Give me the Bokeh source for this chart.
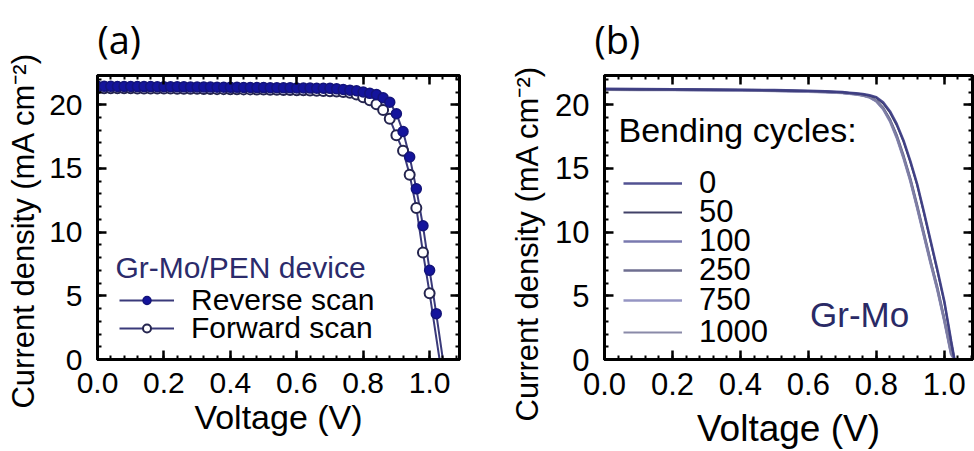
from bokeh.plotting import figure
from bokeh.layouts import row
from bokeh.models import (Range1d, LinearAxis, Legend, LegendItem, Label, FixedTicker,
                          CustomLabelingPolicy)
from bokeh.embed import file_html
from bokeh.resources import INLINE

# ---------------- Panel (a) data ----------------
rev_voltage = [0.00, 0.02, 0.04, 0.06, 0.08, 0.10, 0.12, 0.14, 0.16, 0.18,
               0.20, 0.22, 0.24, 0.26, 0.28, 0.30, 0.32, 0.34, 0.36, 0.38,
               0.40, 0.42, 0.44, 0.46, 0.48, 0.50, 0.52, 0.54, 0.56, 0.58,
               0.60, 0.62, 0.64, 0.66, 0.68, 0.70, 0.72, 0.74, 0.76, 0.78,
               0.80, 0.82, 0.84, 0.86, 0.88, 0.90, 0.92, 0.94, 0.96, 0.98,
               1.00, 1.02]
rev_current = [21.45, 21.45, 21.45, 21.44, 21.44, 21.44, 21.43, 21.43, 21.43, 21.42,
               21.42, 21.42, 21.41, 21.41, 21.40, 21.40, 21.39, 21.39, 21.38, 21.38,
               21.37, 21.37, 21.36, 21.36, 21.35, 21.35, 21.34, 21.34, 21.33, 21.33,
               21.32, 21.32, 21.31, 21.30, 21.30, 21.29, 21.25, 21.20, 21.15, 21.10,
               21.00, 20.90, 20.80, 20.55, 20.20, 19.30, 17.90, 15.90, 13.40, 10.50,
               7.00, 3.60]
rev_voc = 1.04

fwd_voltage = [0.00, 0.02, 0.04, 0.06, 0.08, 0.10, 0.12, 0.14, 0.16, 0.18,
               0.20, 0.22, 0.24, 0.26, 0.28, 0.30, 0.32, 0.34, 0.36, 0.38,
               0.40, 0.42, 0.44, 0.46, 0.48, 0.50, 0.52, 0.54, 0.56, 0.58,
               0.60, 0.62, 0.64, 0.66, 0.68, 0.70, 0.72, 0.74, 0.76, 0.78,
               0.80, 0.82, 0.84, 0.86, 0.88, 0.90, 0.92, 0.94, 0.96, 0.98,
               1.00]
fwd_current = [21.30, 21.30, 21.30, 21.29, 21.29, 21.29, 21.28, 21.28, 21.28, 21.27,
               21.27, 21.27, 21.26, 21.26, 21.25, 21.25, 21.24, 21.24, 21.23, 21.23,
               21.22, 21.22, 21.21, 21.21, 21.20, 21.20, 21.19, 21.18, 21.17, 21.16,
               21.15, 21.14, 21.13, 21.11, 21.09, 21.07, 21.04, 21.00, 20.95, 20.80,
               20.60, 20.35, 20.05, 19.60, 18.90, 17.60, 16.40, 14.50, 11.90, 8.40,
               5.20]
fwd_voc = 1.03

scan_labels = ["Reverse scan", "Forward scan"]
device_title = "Gr-Mo/PEN device"

# ---------------- Panel (b) data ----------------
bend_voltage = [0.00, 0.10, 0.20, 0.30, 0.40, 0.50, 0.60, 0.65, 0.70, 0.72,
                0.74, 0.76, 0.78, 0.80, 0.82, 0.84, 0.86, 0.88, 0.90, 0.92,
                0.94, 0.96, 0.98, 1.00, 1.02, 1.03]
bend_cycles = ["0", "50", "100", "250", "750", "1000"]
bend_current = {
    "0":    [21.25, 21.24, 21.23, 21.21, 21.19, 21.16, 21.10, 21.06, 21.00, 20.95,
             20.90, 20.85, 20.75, 20.60, 20.20, 19.50, 18.50, 17.20, 15.60, 13.80,
             11.60, 9.30, 7.00, 4.60, 1.50, 0.00],
    "50":   [21.22, 21.21, 21.20, 21.18, 21.16, 21.13, 21.08, 21.04, 20.98, 20.93,
             20.88, 20.82, 20.72, 20.55, 20.10, 19.40, 18.40, 17.10, 15.50, 13.70,
             11.50, 9.20, 6.90, 4.50, 1.40, 0.00],
    "100":  [21.20, 21.19, 21.18, 21.16, 21.14, 21.11, 21.05, 21.01, 20.94, 20.89,
             20.83, 20.74, 20.60, 20.30, 19.70, 18.80, 17.50, 15.90, 14.10, 12.00,
             9.80, 7.60, 5.50, 3.10, 0.50, 0.00],
    "250":  [21.22, 21.21, 21.20, 21.18, 21.16, 21.13, 21.07, 21.02, 20.95, 20.90,
             20.84, 20.75, 20.62, 20.32, 19.75, 18.85, 17.60, 16.00, 14.20, 12.10,
             9.90, 7.70, 5.60, 3.20, 0.60, 0.00],
    "750":  [21.18, 21.17, 21.16, 21.14, 21.12, 21.09, 21.03, 20.99, 20.92, 20.87,
             20.81, 20.72, 20.57, 20.26, 19.65, 18.70, 17.40, 15.80, 14.00, 11.90,
             9.70, 7.50, 5.40, 3.00, 0.40, 0.00],
    "1000": [21.19, 21.18, 21.17, 21.15, 21.13, 21.10, 21.04, 21.00, 20.93, 20.88,
             20.82, 20.73, 20.58, 20.28, 19.68, 18.75, 17.45, 15.85, 14.05, 11.95,
             9.75, 7.55, 5.45, 3.05, 0.45, 0.00],
}
bend_colors = {"0": "#3f3f86", "50": "#2c2c58", "100": "#6a6aa6",
               "250": "#5e5e84", "750": "#8a8abd", "1000": "#7d7d9e"}
bend_widths = {"0": 2.5, "50": 2.0, "100": 2.5, "250": 2.5, "750": 2.5, "1000": 2.0}
bend_title = "Bending cycles:"

x_ticks = [0.0, 0.2, 0.4, 0.6, 0.8, 1.0]
y_ticks = [0, 5, 10, 15, 20]

SANS = "Liberation Sans"
NBSP = "\u00a0"


def minor_list(major, step):
    out = []
    lo, hi = major[0], major[-1] + 2 * (major[1] - major[0])
    v = lo
    while v <= hi + 1e-9:
        out.append(round(v, 4))
        v += step
    return out


def style_axis(ax, tick_font, show_labels=True):
    ax.axis_line_width = 3
    ax.axis_line_color = "black"
    ax.major_tick_in = 9
    ax.major_tick_out = 0
    ax.major_tick_line_width = 2.5
    ax.major_tick_line_color = "black"
    ax.minor_tick_in = 4
    ax.minor_tick_out = 0
    ax.minor_tick_line_width = 2
    ax.minor_tick_line_color = "black"
    if show_labels:
        ax.major_label_text_font = SANS
        ax.major_label_text_font_size = tick_font
        ax.major_label_text_color = "black"
    else:
        ax.major_label_policy = CustomLabelingPolicy(code="return []")
        ax.major_label_text_font_size = "0px"
        ax.major_label_standoff = 0
        ax.axis_label = None


def make_frame(width, xmax, ymax, border_left, border_right, tick_font,
               x_label_font, y_label_font, xstand, ystand, title, title_offset, ypad):
    p = figure(width=width, height=451, output_backend="svg", toolbar_location=None,
               x_range=Range1d(0, xmax), y_range=Range1d(0, ymax),
               min_border_left=border_left, min_border_right=border_right,
               min_border_top=75, min_border_bottom=91)
    p.grid.visible = False
    p.outline_line_color = "black"
    p.outline_line_width = 3
    p.background_fill_color = "white"
    p.border_fill_color = "white"
    p.xaxis.ticker = FixedTicker(ticks=x_ticks, minor_ticks=minor_list(x_ticks, 0.04))
    p.yaxis.ticker = FixedTicker(ticks=y_ticks, minor_ticks=minor_list(y_ticks, 1))
    p.xaxis.major_label_overrides = {v: f"{v:.1f}" for v in x_ticks}
    for ax in p.xaxis + p.yaxis:
        style_axis(ax, tick_font)
    p.xaxis.major_label_standoff = 13
    p.yaxis.major_label_standoff = 15
    p.xaxis.axis_label = "Voltage (V)"
    p.yaxis.axis_label = "Current density (mA cm\u207b\u00b2)" + NBSP * ypad
    for ax, fs, st in ((p.xaxis[0], x_label_font, xstand), (p.yaxis[0], y_label_font, ystand)):
        ax.axis_label_text_font = SANS
        ax.axis_label_text_font_size = fs
        ax.axis_label_text_font_style = "normal"
        ax.axis_label_text_color = "black"
        ax.axis_label_standoff = st
    top = LinearAxis(ticker=FixedTicker(ticks=x_ticks, minor_ticks=minor_list(x_ticks, 0.04)))
    style_axis(top, tick_font, show_labels=False)
    p.add_layout(top, "above")
    right = LinearAxis(ticker=FixedTicker(ticks=y_ticks, minor_ticks=minor_list(y_ticks, 1)))
    style_axis(right, tick_font, show_labels=False)
    p.add_layout(right, "right")
    p.title.text = title
    p.title.text_font = "Open Sans"
    p.title.text_font_size = "38px"
    p.title.text_font_style = "normal"
    p.title.text_color = "black"
    p.title.align = "left"
    p.title.offset = title_offset
    p.title.standoff = 21
    return p


def single_legend(item, loc, font_size, glyph_w, standoff):
    lg = Legend(items=[item], location=loc)
    lg.label_text_font = SANS
    lg.label_text_font_size = font_size
    lg.label_text_color = "black"
    lg.glyph_width = glyph_w
    lg.glyph_height = 20
    lg.label_height = 20
    lg.label_standoff = standoff
    lg.padding = 0
    lg.margin = 0
    lg.border_line_color = None
    lg.background_fill_alpha = 0
    return lg


# ---------------- Panel (a) ----------------
pa = make_frame(470, 1.09, 22.3, 97, 11, "30px", "34px", "31px", 2, 5, "(a)", 0, 3)

rev_line = pa.line(rev_voltage + [rev_voc], rev_current + [0.0],
                   line_color="#3a3a7a", line_width=2)
fwd_line = pa.line(fwd_voltage + [fwd_voc], fwd_current + [0.0],
                   line_color="#3a3a7a", line_width=2)
fwd_pts = pa.scatter(fwd_voltage, fwd_current, size=10, marker="circle",
                     fill_color="white", line_color="#25254f", line_width=2)
rev_pts = pa.scatter(rev_voltage, rev_current, size=10, marker="circle",
                     fill_color="#14149c", line_color="#14147a", line_width=1.5)

pa.add_layout(Label(x=18, y=92, x_units="screen", y_units="screen", text=device_title,
                    text_font=SANS, text_font_size="30px", text_color="#2b2b6b",
                    text_baseline="middle"))
scan_renderers = [[rev_line, rev_pts], [fwd_line, fwd_pts]]
scan_offsets = [42, 14]
for lab, rends, yoff in zip(scan_labels, scan_renderers, scan_offsets):
    pa.add_layout(single_legend(LegendItem(label=lab, renderers=rends), (22, yoff),
                                "30px", 55, 17), "center")

# ---------------- Panel (b) ----------------
pb = make_frame(504, 1.083, 22.3, 134, 2, "31px", "37px", "31px", 10, 7, "(b)", -10, 6)

renderers_b = {}
for c in ["100", "250", "750", "1000", "50", "0"]:
    renderers_b[c] = pb.line(bend_voltage, bend_current[c], line_color=bend_colors[c],
                             line_width=bend_widths[c], line_alpha=0.9)

pb.add_layout(Label(x=14, y=230, x_units="screen", y_units="screen", text=bend_title,
                    text_font=SANS, text_font_size="34px", text_color="black",
                    text_baseline="middle"))
bend_offsets = [158, 129, 100, 71, 41, 9]
for c, yoff in zip(bend_cycles, bend_offsets):
    pb.add_layout(single_legend(LegendItem(label=c, renderers=[renderers_b[c]]), (19, yoff),
                                "31px", 59, 17), "center")

pb.add_layout(Label(x=0.605, y=3.5, text="Gr-Mo", text_font=SANS, text_font_size="35px",
                    text_color="#2a2a66", text_baseline="middle"))

layout = row(pa, pb)
open("out.html", "w").write(file_html(layout, INLINE))
